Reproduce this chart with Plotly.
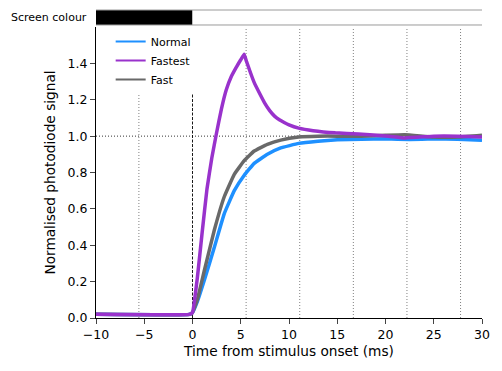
import plotly.graph_objects as go

# ---- data ----
t_normal = [-10, -0.3, 0, 0.5, 1.24, 2.27, 3.3, 4.33, 5.36, 6.39, 7.76, 9.14, 11, 13, 15, 17.5, 20, 22.5, 25, 27.5, 30]
v_normal = [0.02, 0.02, 0.03, 0.09, 0.21, 0.39, 0.575, 0.70, 0.785, 0.85, 0.90, 0.935, 0.96, 0.972, 0.98, 0.983, 0.985, 0.982, 0.985, 0.983, 0.977]

t_fast = [-10, -0.3, 0, 0.5, 1.24, 2.27, 3.3, 4.33, 5.36, 6.39, 7.76, 9.14, 11, 13, 15, 17.5, 20, 22, 25, 27.5, 30]
v_fast = [0.02, 0.02, 0.03, 0.10, 0.264, 0.485, 0.668, 0.79, 0.865, 0.918, 0.955, 0.978, 0.995, 1.0, 1.0, 1.0, 1.005, 1.008, 0.995, 0.995, 1.005]

t_fastest = [-10, -0.3, 0, 0.5, 1.0, 1.5, 2.0, 2.5, 3.0, 3.5, 4.0, 4.5, 5.0, 5.35, 5.6, 6.0, 6.4, 7.0, 7.5, 8.0, 8.5, 9.0, 9.5, 10.0, 11.0, 12.5, 14.8, 17.2, 20.3, 22, 25, 27.5, 30]
v_fastest = [0.02, 0.02, 0.03, 0.22, 0.47, 0.71, 0.88, 1.02, 1.15, 1.255, 1.325, 1.375, 1.42, 1.45, 1.41, 1.35, 1.294, 1.23, 1.18, 1.14, 1.11, 1.09, 1.075, 1.062, 1.044, 1.03, 1.018, 1.012, 1.0, 0.99, 1.0, 1.0, 0.995]

series_names = ["Normal", "Fastest", "Fast"]
series_colors = {"Normal": "#1E90FF", "Fastest": "#9932CC", "Fast": "#696969"}

frame_times = [-5.556, 5.556, 11.111, 16.667, 22.222, 27.778]
stim_onset = 0
reference_level = 1.0

screen_dark = (-10, 0)   # black screen before onset
screen_light = (0, 30)   # white screen after onset

x_ticks = [-10, -5, 0, 5, 10, 15, 20, 25, 30]
y_ticks = [0.0, 0.2, 0.4, 0.6, 0.8, 1.0, 1.2, 1.4]

# ---- figure ----
fig = go.Figure()
data = {"Normal": (t_normal, v_normal), "Fast": (t_fast, v_fast), "Fastest": (t_fastest, v_fastest)}
for name in ["Normal", "Fast", "Fastest"]:
    tx, vy = data[name]
    fig.add_trace(go.Scatter(x=tx, y=vy, mode="lines", showlegend=False,
                             line=dict(color=series_colors[name], width=3.5, shape="spline", smoothing=0.3),
                             hoverinfo="skip"))
for name in series_names:
    fig.add_trace(go.Scatter(x=[None], y=[None], mode="lines", name=name,
                             line=dict(color=series_colors[name], width=2)))

shapes = []
for ft in frame_times:
    shapes.append(dict(type="line", xref="x", yref="paper", x0=ft, x1=ft, y0=0, y1=1,
                       line=dict(color="#808080", width=1, dash="1px,2px"), layer="below"))
shapes.append(dict(type="line", xref="x", yref="paper", x0=stim_onset, x1=stim_onset, y0=0, y1=1,
                   line=dict(color="black", width=0.9, dash="3px,1.5px"), layer="below"))
shapes.append(dict(type="line", xref="paper", yref="y", x0=0, x1=1, y0=reference_level, y1=reference_level,
                   line=dict(color="black", width=0.8, dash="1px,2px"), layer="below"))
# screen colour bar
bar_y0, bar_y1 = 1.0069, 1.0584
shapes.append(dict(type="rect", xref="x", yref="paper", x0=screen_dark[0], x1=screen_dark[1], y0=bar_y0, y1=bar_y1,
                   fillcolor="black", line=dict(width=0)))
shapes.append(dict(type="rect", xref="x", yref="paper", x0=screen_light[0], x1=screen_light[1], y0=bar_y0, y1=bar_y1,
                   fillcolor="white", line=dict(width=0)))
for yy in (bar_y0, bar_y1):
    shapes.append(dict(type="line", xref="paper", yref="paper", x0=0, x1=1, y0=yy, y1=yy,
                       line=dict(color="#9a9a9a", width=1)))

fig.update_layout(
    width=502, height=371,
    margin=dict(l=96, r=18, t=27, b=53),
    paper_bgcolor="white", plot_bgcolor="white",
    font=dict(family="DejaVu Sans", size=11.5, color="black"),
    shapes=shapes,
    showlegend=True,
    legend=dict(x=0.038, y=1.0, xanchor="left", yanchor="top", bgcolor="white",
                font=dict(size=11), tracegroupgap=0, entrywidth=88),
    xaxis=dict(range=[-10, 30], tickvals=x_ticks, ticks="outside", ticklen=5, tickwidth=1,
               showline=True, linecolor="black", linewidth=1, showgrid=False, zeroline=False,
               tickfont=dict(size=12.5),
               title=dict(text="Time from stimulus onset (ms)", standoff=5, font=dict(size=13.7))),
    yaxis=dict(range=[0, 1.6], tickvals=y_ticks, tickformat=".1f", ticks="outside", ticklen=5, tickwidth=1,
               showline=True, linecolor="black", linewidth=1, showgrid=False, zeroline=False,
               tickfont=dict(size=12.5),
               title=dict(text="Normalised photodiode signal", standoff=8, font=dict(size=13.7))),
    annotations=[dict(text="Screen colour", xref="paper", yref="paper", x=-0.018, y=(bar_y0 + bar_y1) / 2,
                      xanchor="right", yanchor="middle", showarrow=False, font=dict(size=11))],
)

fig.write_html("out.html", post_script="document.body.style.margin='0';",
               config={"displayModeBar": False})
